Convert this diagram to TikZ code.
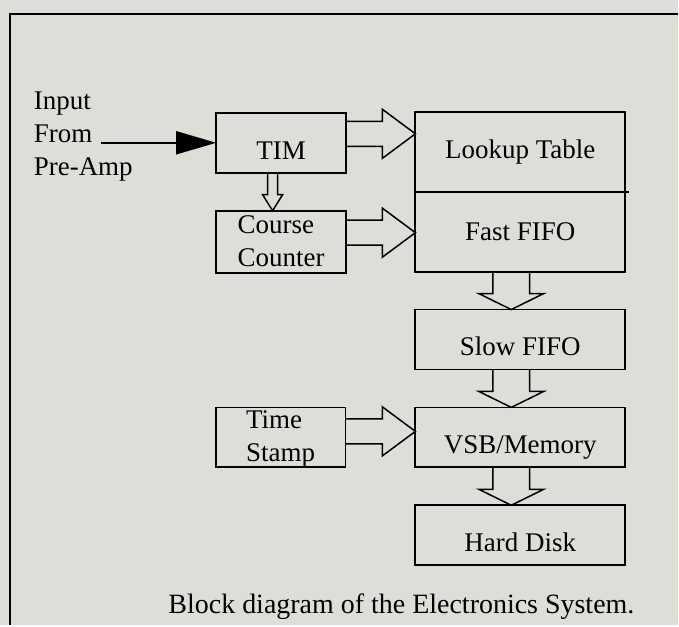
\documentclass[tikz,border=0pt]{standalone}
\usepackage{fontspec}
\setmainfont{Liberation Serif}
\usetikzlibrary{arrows.meta, positioning, calc}
\definecolor{paper}{RGB}{221,222,216}

\begin{document}
\begin{tikzpicture}[x=0.5pt, y=-0.5pt, node distance=19pt, font=\fontsize{13.5}{16.5}\selectfont, line width=0.9pt]

    % Define style for boxes
    \tikzstyle{unit} = [rectangle, draw=black, minimum width=65pt, minimum height=30pt, inner sep=2pt, outer sep=0pt, align=left]
    \tikzstyle{store} = [rectangle, draw=black, minimum width=105pt, minimum height=30pt, outer sep=0pt, text height=16.5pt, text depth=0pt]
    \tikzstyle{hollow} = [draw=black, line width=0.75pt, line join=miter]
    \tikzstyle{sidetext} = [anchor=base west, inner sep=2pt]

    % Background and frame
    \fill[paper] (0,0) rectangle (679,626);
    \draw[line width=1pt] (10,626) -- (10,14) -- (679,14);

    % Nodes
    \node (input) [sidetext] at (29,110) {Input};
    \node (from) [sidetext] at (29,143) {From};
    \node (preamp) [sidetext] at (29,176) {Pre-Amp};

    \node (tim) [unit, align=center, text height=17pt, text depth=0pt] at (281.5,143) {TIM};
    \node (course) [unit, below=of tim, minimum height=31pt] {Course\\Counter};

    \node (lookup) [store, minimum height=40pt, text height=7pt] at (521,152) {Lookup Table};
    \node (fast) [store, below=0pt of lookup, minimum height=40pt, text height=9pt] {Fast FIFO};
    \node (slow) [store, below=of fast] {Slow FIFO};
    \node (vsb) [store, below=of slow] {VSB/Memory};
    \node (disk) [store, below=of vsb] {Hard Disk};

    \node (stamp) [unit, left=35pt of vsb, text height=24pt, text depth=-4pt] {Time\\Stamp};

    \node (caption) [anchor=base, font=\fontsize{14}{17}\selectfont] at (402,614) {Block diagram of the Electronics System.};

    % Lines
    \draw (lookup.south west) -- ([xshift=2pt]lookup.south east);
    \draw[-{Triangle[length=20pt,width=11.5pt]}] ($(from.east |- tim.west)+(4,0)$) -- (tim.west);

    \draw[hollow] ($(tim.east |- 0,134)+(0,-12.5)$) -- ($(lookup.west |- 0,134)+(-33,-12.5)$) -- ++(0,-12) -- (lookup.west |- 0,134) -- ++(-33,24.5) -- ++(0,-12) -- ($(tim.east |- 0,134)+(0,12.5)$);
    \draw[hollow] ($(course.east |- 0,233)+(0,-12.5)$) -- ($(fast.west |- 0,233)+(-33,-12.5)$) -- ++(0,-12) -- (fast.west |- 0,233) -- ++(-33,24.5) -- ++(0,-12) -- ($(course.east |- 0,233)+(0,12.5)$);
    \draw[hollow] ($(stamp.east |- 0,432)+(0,-12.5)$) -- ($(vsb.west |- 0,432)+(-33,-12.5)$) -- ++(0,-12) -- (vsb.west |- 0,432) -- ++(-33,24.5) -- ++(0,-12) -- ($(stamp.east |- 0,432)+(0,12.5)$);

    \draw[hollow] ($(273,0 |- tim.south)+(-5,0)$) -- ($(273,0 |- course.north)+(-5,-16)$) -- ++(-5,0) -- (273,0 |- course.north) -- ++(10,-16) -- ++(-5,0) -- ($(273,0 |- tim.south)+(5,0)$);
    \draw[hollow] ($(512,0 |- fast.south)+(-18.5,0)$) -- ($(512,0 |- slow.north)+(-18.5,-16)$) -- ++(-14,0) -- (512,0 |- slow.north) -- ++(32.5,-16) -- ++(-14,0) -- ($(512,0 |- fast.south)+(18.5,0)$);
    \draw[hollow] ($(512,0 |- slow.south)+(-18.5,0)$) -- ($(512,0 |- vsb.north)+(-18.5,-16)$) -- ++(-14,0) -- (512,0 |- vsb.north) -- ++(32.5,-16) -- ++(-14,0) -- ($(512,0 |- slow.south)+(18.5,0)$);
    \draw[hollow] ($(512,0 |- vsb.south)+(-18.5,0)$) -- ($(512,0 |- disk.north)+(-18.5,-16)$) -- ++(-14,0) -- (512,0 |- disk.north) -- ++(32.5,-16) -- ++(-14,0) -- ($(512,0 |- vsb.south)+(18.5,0)$);

\end{tikzpicture}
\end{document}
